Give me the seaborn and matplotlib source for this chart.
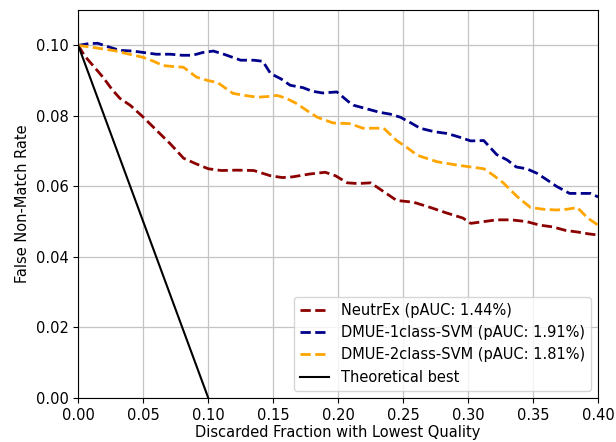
import matplotlib
matplotlib.use("Agg")
import matplotlib.pyplot as plt
import seaborn as sns
import pandas as pd

# values
neutrex_x = [0.0, 0.005, 0.012, 0.019, 0.026, 0.032, 0.040, 0.049, 0.060, 0.071, 0.081,
             0.090, 0.100, 0.110, 0.122, 0.135, 0.148, 0.157, 0.165, 0.178, 0.190, 0.198,
             0.207, 0.215, 0.225, 0.235, 0.245, 0.258, 0.271, 0.283, 0.296, 0.302, 0.312,
             0.322, 0.333, 0.345, 0.355, 0.365, 0.375, 0.385, 0.393, 0.400]
neutrex_y = [0.100, 0.097, 0.094, 0.091, 0.0875, 0.085, 0.083, 0.080, 0.076, 0.072, 0.068,
             0.0665, 0.065, 0.0645, 0.0646, 0.0645, 0.063, 0.0625, 0.0627, 0.0635, 0.064, 0.063,
             0.061, 0.0608, 0.061, 0.0585, 0.056, 0.0555, 0.054, 0.0525, 0.051, 0.0495, 0.050,
             0.0505, 0.0505, 0.050, 0.049, 0.0485, 0.0475, 0.047, 0.0465, 0.0462]

svm1_x = [0.0, 0.008, 0.015, 0.024, 0.032, 0.042, 0.050, 0.060, 0.071, 0.080, 0.088,
          0.096, 0.104, 0.112, 0.125, 0.135, 0.142, 0.148, 0.156, 0.163, 0.173, 0.180,
          0.188, 0.199, 0.208, 0.212, 0.222, 0.232, 0.240, 0.248, 0.256, 0.263, 0.274,
          0.284, 0.293, 0.302, 0.312, 0.322, 0.330, 0.337, 0.345, 0.353, 0.360, 0.368,
          0.378, 0.386, 0.394, 0.400]
svm1_y = [0.100, 0.1005, 0.1006, 0.0995, 0.0986, 0.0984, 0.098, 0.0975, 0.0975, 0.0972, 0.0972,
          0.098, 0.0984, 0.0975, 0.0958, 0.0958, 0.0955, 0.092, 0.0905, 0.0887, 0.088, 0.087,
          0.0865, 0.0868, 0.084, 0.083, 0.082, 0.081, 0.0805, 0.0796, 0.078, 0.0765, 0.0755,
          0.075, 0.074, 0.0729, 0.073, 0.069, 0.0675, 0.0655, 0.065, 0.0637, 0.062, 0.060,
          0.058, 0.058, 0.058, 0.057]

svm2_x = [0.0, 0.010, 0.019, 0.028, 0.037, 0.050, 0.058, 0.065, 0.073, 0.081, 0.091,
          0.100, 0.107, 0.119, 0.128, 0.138, 0.146, 0.153, 0.160, 0.168, 0.176, 0.184,
          0.196, 0.209, 0.219, 0.235, 0.245, 0.253, 0.261, 0.276, 0.292, 0.302, 0.312,
          0.320, 0.327, 0.338, 0.348, 0.358, 0.368, 0.376, 0.384, 0.392, 0.400]
svm2_y = [0.100, 0.0995, 0.099, 0.0985, 0.0977, 0.0966, 0.0955, 0.0943, 0.094, 0.0938, 0.091,
          0.090, 0.0895, 0.0864, 0.0858, 0.0853, 0.0855, 0.0858, 0.085, 0.0835, 0.0815, 0.0796,
          0.078, 0.0778, 0.0765, 0.0765, 0.073, 0.071, 0.0688, 0.067, 0.066, 0.0655, 0.065,
          0.063, 0.061, 0.057, 0.054, 0.0535, 0.0533, 0.0535, 0.054, 0.051, 0.049]

best_x = [0.0, 0.1]
best_y = [0.1, 0.0]

labels = ["NeutrEx (pAUC: 1.44%)", "DMUE-1class-SVM (pAUC: 1.91%)",
          "DMUE-2class-SVM (pAUC: 1.81%)", "Theoretical best"]

plt.rcParams["font.size"] = 10.5

fig, ax = plt.subplots(figsize=(6.16, 4.42), dpi=100)
fig.subplots_adjust(left=0.127, right=0.971, top=0.977, bottom=0.1)

curves = [
    (neutrex_x, neutrex_y, "darkred", "--"),
    (svm1_x, svm1_y, "darkblue", "--"),
    (svm2_x, svm2_y, "orange", "--"),
    (best_x, best_y, "black", "-"),
]
for (xs, ys, color, ls), label in zip(curves, labels):
    df = pd.DataFrame({"x": xs, "y": ys})
    lw = 2 if ls == "--" else 1.5
    sns.lineplot(data=df, x="x", y="y", ax=ax, color=color, linestyle=ls,
                 linewidth=lw, label=label, sort=False, estimator=None)

ax.set_xlim(0, 0.40)
ax.set_ylim(0, 0.11)
ax.set_xticks([0.0, 0.05, 0.10, 0.15, 0.20, 0.25, 0.30, 0.35, 0.40])
ax.set_yticks([0.0, 0.02, 0.04, 0.06, 0.08, 0.10])
ax.xaxis.set_major_formatter(matplotlib.ticker.FormatStrFormatter("%.2f"))
ax.yaxis.set_major_formatter(matplotlib.ticker.FormatStrFormatter("%.2f"))
ax.grid(True, color="#c4c4c4", linewidth=0.9)
ax.set_xlabel("Discarded Fraction with Lowest Quality", labelpad=2)
ax.set_ylabel("False Non-Match Rate")
ax.legend(loc="lower right", fontsize=10.5)

fig.savefig("out.png", dpi=100)
